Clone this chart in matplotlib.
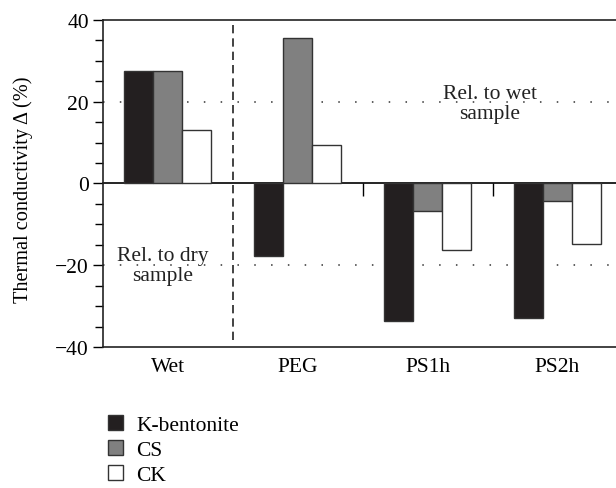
import matplotlib
matplotlib.use("Agg")
import matplotlib.pyplot as plt
import numpy as np

categories = ["Wet", "PEG", "PS1h", "PS2h"]
series_names = ["K-bentonite", "CS", "CK"]
k_bentonite = [27.5, -17.7, -33.6, -32.9]
cs = [27.5, 35.5, -6.7, -4.2]
ck = [13.1, 9.3, -16.3, -14.8]
yticks = [-40, -20, 0, 20, 40]

plt.rcParams['font.family'] = ['Liberation Serif', 'DejaVu Serif']
plt.rcParams['font.size'] = 15.5

fig = plt.figure(figsize=(6.16, 4.89), dpi=100)
ax = fig.add_axes([0.1667, 0.2877, 1.0 - 0.1667, 0.9577 - 0.2877])

x = np.arange(len(categories))
w = 0.223
colors = ["#231f20", "#808080", "#ffffff"]
data = [k_bentonite, cs, ck]
handles = []
for i, (vals, c, name) in enumerate(zip(data, colors, series_names)):
    b = ax.bar(x + (i - 1) * w, vals, width=w, color=c, edgecolor="#333333",
               linewidth=1.0, label=name, zorder=3)
    handles.append(b)

ax.set_xlim(-0.5, 3.45)
ax.set_ylim(-40, 40)
ax.set_yticks(yticks)
ax.set_yticklabels(["\u221240", "\u221220", "0", "20", "40"])
ax.set_yticks(np.arange(-40, 41, 5), minor=True)
ax.tick_params(axis='y', which='major', direction='out', length=7, width=1, pad=3)
ax.tick_params(axis='y', which='minor', direction='out', length=6, width=1)
ax.set_xticks(x)
ax.set_xticklabels(categories)
ax.tick_params(axis='x', length=0, pad=7)

for s in ['left', 'bottom', 'top']:
    ax.spines[s].set_linewidth(1.2)
    ax.spines[s].set_color("#222222")
ax.spines['right'].set_visible(False)

# zero line with group separator ticks
sec = ax.secondary_xaxis(0.5)
sec.set_xticks([1.5, 2.5])
sec.set_xticklabels([])
sec.tick_params(direction='in', length=9, width=1)
for s in sec.spines.values():
    s.set_linewidth(1.2)

# dotted reference lines
for yv in [20, -20]:
    ax.axhline(yv, color="#333333", linestyle=(0, (1, 10)), linewidth=1.1, zorder=1)

# dashed separator
ax.axvline(0.5, ymin=0.0225, ymax=0.9825, color="#222222", linestyle=(0, (5, 3)),
           linewidth=1.2, zorder=2)

ax.set_ylabel("Thermal conductivity \u0394 (%)", fontsize=14.6)
ax.yaxis.set_label_coords(-0.136, 0.485)

ax.text(2.48, 19.6, "Rel. to wet\nsample", ha='center', va='center',
        color="#222222", linespacing=1.1, zorder=4)
ax.text(-0.04, -20.0, "Rel. to dry\nsample", ha='center', va='center',
        color="#222222", linespacing=1.1, zorder=4)

fig.legend(handles=handles, labels=series_names, loc='upper left',
           bbox_to_anchor=(0.162, 0.166), frameon=False,
           handlelength=0.68, handleheight=0.68, handletextpad=0.6,
           labelspacing=0.22, borderaxespad=0)

fig.savefig("out.png", dpi=100)
